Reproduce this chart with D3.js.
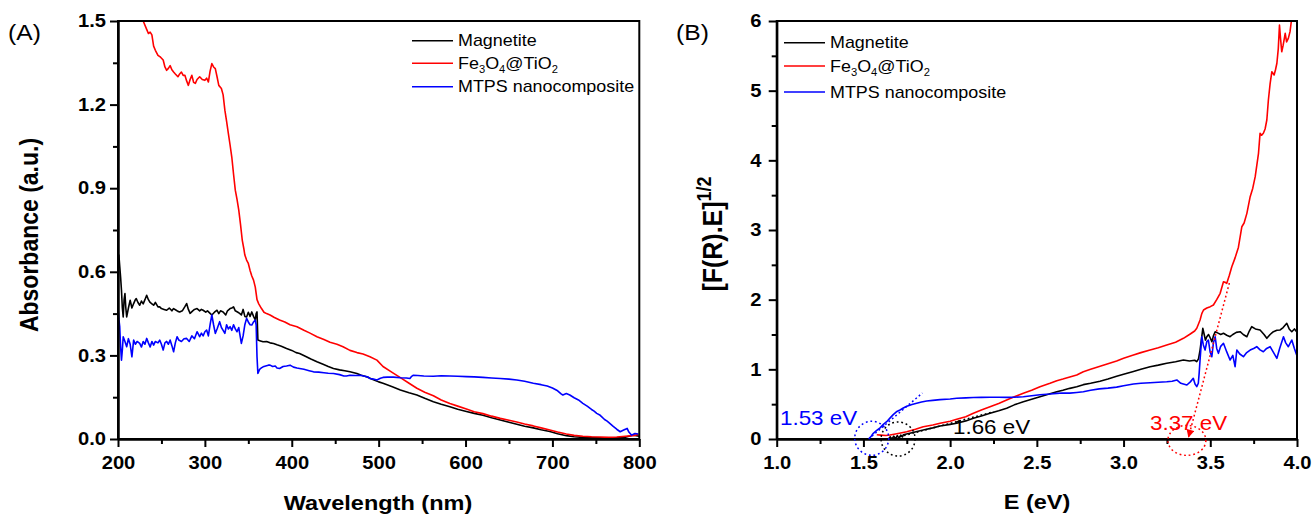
<!DOCTYPE html>
<html lang="en">
<head>
<meta charset="utf-8">
<title>absorbance and tauc plot</title>
<script src="https://d3js.org/d3.v7.min.js"></script>
<style>
body{margin:0;background:#fff;font-family:"Liberation Sans",Arial,sans-serif;}
</style>
</head>
<body>
<div id="chart"></div>
<script>
// ---- panel A : absorbance spectra, [wavelength (nm), absorbance] ----
var magnetiteA = [[200,0.60],[201,0.66],[202,0.62],[203,0.58],[204,0.534],[205,0.47],[206,0.438],[207,0.50],[208,0.522],[209,0.47],[210,0.438],[212,0.47],[214,0.498],[216,0.47],[218,0.486],[220,0.50],[221,0.504],[223,0.49],[225,0.48],[227,0.495],[229,0.485],[231,0.50],[233,0.516],[235,0.50],[237,0.49],[239,0.485],[241,0.48],[243,0.49],[246,0.474],[248,0.474],[250,0.468],[253,0.465],[256,0.462],[259,0.47],[262,0.46],[264,0.468],[267,0.462],[269,0.458],[271,0.456],[274,0.46],[277,0.475],[279,0.486],[281,0.465],[283,0.451],[286,0.46],[288,0.465],[291,0.468],[294,0.46],[296,0.465],[298,0.462],[301,0.455],[303,0.46],[306,0.451],[308,0.445],[311,0.455],[314,0.462],[316,0.45],[318,0.46],[321,0.456],[324,0.445],[326,0.46],[329,0.468],[331,0.47],[333,0.474],[335,0.46],[338,0.455],[340,0.451],[342,0.445],[344,0.465],[346,0.44],[348,0.438],[350,0.455],[352,0.44],[354,0.456],[356,0.44],[358,0.427],[359,0.45],[360,0.456],[361,0.355],[364,0.352],[367,0.349],[371,0.35],[375,0.345],[379,0.343],[383,0.338],[388,0.333],[394,0.325],[400,0.318],[405,0.31],[409,0.307],[415,0.298],[422,0.287],[429,0.277],[436,0.268],[442,0.26],[448,0.253],[455,0.248],[461,0.245],[467,0.241],[475,0.235],[480,0.229],[486,0.223],[494,0.213],[500,0.205],[505,0.2],[515,0.188],[525,0.176],[535,0.166],[544,0.158],[553,0.146],[563,0.134],[572,0.125],[582,0.116],[591,0.107],[601,0.099],[610,0.092],[620,0.085],[630,0.076],[640,0.068],[650,0.06],[659,0.053],[668,0.046],[678,0.04],[687,0.033],[697,0.027],[706,0.019],[716,0.012],[725,0.008],[735,0.006],[745,0.005],[755,0.004],[765,0.004],[774,0.004],[784,0.006],[793,0.014],[800,0.01]]
var fetioA = [[224,1.54],[229,1.50],[233,1.47],[235,1.455],[237,1.46],[239,1.45],[241,1.41],[243,1.395],[246,1.377],[249,1.37],[252,1.36],[254,1.335],[256,1.323],[258,1.33],[260,1.34],[262,1.325],[264,1.317],[266,1.31],[269,1.30],[271,1.31],[273,1.317],[275,1.305],[277,1.305],[279,1.285],[281,1.269],[283,1.29],[285,1.305],[287,1.28],[289,1.276],[291,1.29],[294,1.30],[297,1.29],[300,1.287],[302,1.295],[304,1.281],[306,1.32],[308,1.347],[310,1.335],[312,1.329],[314,1.30],[316,1.269],[319,1.258],[321,1.235],[323,1.18],[325,1.14],[327,1.097],[329,1.055],[331,1.011],[333,0.95],[335,0.893],[337,0.86],[339,0.821],[341,0.77],[343,0.714],[345,0.68],[346,0.66],[348,0.642],[350,0.63],[352,0.605],[354,0.585],[356,0.57],[358,0.545],[360,0.50],[362,0.485],[365,0.469],[368,0.455],[371,0.45],[375,0.445],[380,0.436],[386,0.427],[392,0.42],[398,0.41],[406,0.403],[414,0.39],[421,0.38],[429,0.367],[437,0.357],[444,0.347],[452,0.34],[459,0.331],[467,0.318],[475,0.31],[482,0.305],[490,0.295],[498,0.283],[505,0.26],[515,0.24],[525,0.22],[535,0.20],[544,0.182],[553,0.168],[563,0.155],[572,0.14],[582,0.127],[591,0.118],[601,0.108],[610,0.098],[620,0.091],[630,0.082],[640,0.074],[650,0.067],[659,0.061],[668,0.054],[678,0.047],[687,0.04],[697,0.032],[706,0.025],[716,0.018],[725,0.013],[735,0.010],[745,0.008],[755,0.007],[765,0.006],[774,0.007],[784,0.01],[793,0.012],[799,0.016]]
var mtpsA = [[200,0.474],[201,0.43],[202,0.403],[203,0.33],[204,0.283],[205,0.32],[206,0.367],[208,0.35],[210,0.331],[212,0.36],[214,0.34],[216,0.295],[218,0.355],[220,0.34],[222,0.35],[225,0.343],[227,0.33],[229,0.35],[231,0.34],[233,0.361],[235,0.345],[237,0.33],[239,0.35],[241,0.337],[243,0.35],[246,0.345],[248,0.355],[250,0.34],[252,0.319],[254,0.345],[256,0.35],[258,0.34],[260,0.355],[262,0.335],[264,0.313],[266,0.345],[268,0.367],[270,0.355],[273,0.35],[276,0.36],[279,0.361],[282,0.35],[285,0.37],[288,0.36],[291,0.385],[294,0.367],[296,0.38],[298,0.37],[300,0.385],[302,0.391],[304,0.37],[306,0.41],[308,0.445],[310,0.41],[312,0.379],[314,0.395],[317,0.421],[319,0.40],[321,0.39],[323,0.379],[325,0.41],[327,0.395],[329,0.403],[331,0.39],[333,0.41],[335,0.395],[337,0.385],[339,0.4],[340,0.38],[342,0.343],[344,0.37],[346,0.41],[348,0.433],[350,0.42],[352,0.41],[354,0.409],[356,0.42],[358,0.427],[359,0.41],[360,0.295],[361,0.235],[363,0.25],[365,0.255],[367,0.259],[370,0.262],[373,0.265],[375,0.265],[378,0.26],[381,0.262],[383,0.255],[386,0.253],[390,0.26],[394,0.262],[398,0.265],[402,0.258],[406,0.255],[409,0.253],[414,0.25],[420,0.245],[425,0.241],[431,0.24],[437,0.238],[442,0.236],[448,0.235],[455,0.231],[460,0.226],[463,0.226],[467,0.229],[473,0.228],[479,0.229],[484,0.225],[488,0.222],[490,0.217],[494,0.215],[498,0.212],[502,0.218],[505,0.221],[510,0.222],[517,0.222],[525,0.22],[532,0.219],[536,0.217],[538,0.225],[540,0.229],[545,0.228],[552,0.226],[563,0.225],[572,0.227],[582,0.226],[591,0.225],[601,0.224],[610,0.223],[620,0.221],[630,0.219],[640,0.217],[650,0.215],[659,0.212],[668,0.207],[678,0.2],[687,0.195],[694,0.19],[700,0.183],[706,0.173],[710,0.162],[712,0.158],[716,0.163],[720,0.158],[725,0.148],[730,0.14],[735,0.128],[740,0.118],[745,0.106],[748,0.1],[751,0.092],[755,0.085],[760,0.07],[763,0.064],[766,0.056],[770,0.045],[774,0.035],[778,0.026],[782,0.032],[786,0.038],[788,0.025],[791,0.014],[795,0.02],[799,0.018]]

// ---- panel B : tauc plot, [E (eV), [F(R).E]^1/2] ----
var magnetiteB = [[1.644,0],[1.655,0.03],[1.665,0.0],[1.675,0.04],[1.685,0.005],[1.695,0.05],[1.705,0.01],[1.715,0.055],[1.725,0.03],[1.73,0.06],[1.78,0.09],[1.845,0.129],[1.9,0.16],[1.942,0.187],[2.0,0.21],[2.038,0.225],[2.09,0.26],[2.134,0.297],[2.18,0.33],[2.23,0.369],[2.28,0.405],[2.326,0.441],[2.37,0.49],[2.422,0.535],[2.47,0.57],[2.518,0.607],[2.576,0.65],[2.615,0.679],[2.65,0.7],[2.69,0.727],[2.73,0.75],[2.768,0.78],[2.81,0.8],[2.864,0.83],[2.91,0.86],[2.96,0.9],[3.0,0.93],[3.057,0.97],[3.1,1.0],[3.153,1.038],[3.2,1.06],[3.249,1.087],[3.3,1.11],[3.345,1.134],[3.38,1.12],[3.41,1.13],[3.422,1.11],[3.432,1.15],[3.441,1.277],[3.45,1.45],[3.457,1.589],[3.465,1.5],[3.472,1.42],[3.48,1.468],[3.49,1.5],[3.5,1.45],[3.509,1.397],[3.518,1.48],[3.528,1.54],[3.545,1.52],[3.56,1.5],[3.576,1.517],[3.595,1.49],[3.614,1.468],[3.63,1.5],[3.65,1.53],[3.672,1.54],[3.69,1.5],[3.711,1.468],[3.725,1.55],[3.739,1.612],[3.76,1.58],[3.787,1.565],[3.81,1.5],[3.826,1.445],[3.845,1.5],[3.864,1.54],[3.884,1.56],[3.903,1.565],[3.92,1.6],[3.941,1.661],[3.955,1.58],[3.97,1.54],[3.985,1.58],[3.998,1.54]]
var fetioB = [[1.577,0.06],[1.6,0.055],[1.63,0.05],[1.653,0.057],[1.7,0.08],[1.75,0.105],[1.8,0.14],[1.845,0.177],[1.9,0.2],[1.942,0.225],[2.0,0.255],[2.038,0.283],[2.09,0.32],[2.134,0.369],[2.18,0.415],[2.23,0.464],[2.28,0.51],[2.326,0.56],[2.37,0.605],[2.422,0.656],[2.47,0.7],[2.518,0.751],[2.576,0.8],[2.615,0.837],[2.65,0.86],[2.69,0.89],[2.73,0.92],[2.768,0.966],[2.81,1.0],[2.86,1.04],[2.91,1.08],[2.96,1.12],[3.0,1.16],[3.057,1.206],[3.1,1.24],[3.153,1.277],[3.2,1.31],[3.249,1.349],[3.3,1.39],[3.345,1.445],[3.38,1.5],[3.41,1.55],[3.422,1.589],[3.432,1.65],[3.441,1.708],[3.451,1.8],[3.461,1.852],[3.48,1.88],[3.5,1.9],[3.518,1.923],[3.537,2.0],[3.557,2.091],[3.576,2.258],[3.585,2.25],[3.595,2.235],[3.61,2.35],[3.624,2.473],[3.643,2.6],[3.662,2.75],[3.682,3.047],[3.695,3.1],[3.711,3.239],[3.73,3.478],[3.745,3.6],[3.759,3.765],[3.778,4.101],[3.787,4.388],[3.796,4.36],[3.806,4.388],[3.816,4.45],[3.826,4.579],[3.835,4.866],[3.845,5.1],[3.855,5.272],[3.868,5.225],[3.876,5.3],[3.884,5.393],[3.892,5.6],[3.899,5.942],[3.905,5.75],[3.912,5.559],[3.92,5.65],[3.932,5.823],[3.94,5.7],[3.95,5.751],[3.96,5.85],[3.97,6.05]]
var mtpsB = [[1.53,0.0],[1.545,0.04],[1.557,0.082],[1.575,0.12],[1.596,0.16],[1.615,0.21],[1.634,0.248],[1.653,0.3],[1.672,0.35],[1.69,0.39],[1.711,0.416],[1.73,0.445],[1.75,0.47],[1.78,0.495],[1.807,0.512],[1.835,0.53],[1.865,0.545],[1.9,0.555],[1.942,0.565],[2.0,0.575],[2.038,0.584],[2.09,0.59],[2.134,0.595],[2.18,0.598],[2.23,0.6],[2.28,0.6],[2.326,0.597],[2.37,0.6],[2.422,0.607],[2.47,0.62],[2.518,0.635],[2.576,0.645],[2.615,0.655],[2.65,0.66],[2.69,0.658],[2.73,0.668],[2.768,0.679],[2.81,0.7],[2.86,0.72],[2.91,0.73],[2.96,0.745],[3.0,0.765],[3.057,0.79],[3.1,0.8],[3.153,0.808],[3.2,0.815],[3.249,0.822],[3.28,0.83],[3.307,0.847],[3.33,0.8],[3.365,0.775],[3.385,0.82],[3.402,0.871],[3.412,0.79],[3.422,0.751],[3.431,0.8],[3.436,0.95],[3.441,1.134],[3.451,1.468],[3.46,1.35],[3.47,1.277],[3.48,1.4],[3.489,1.421],[3.499,1.25],[3.509,1.181],[3.518,1.38],[3.528,1.468],[3.537,1.3],[3.547,1.23],[3.56,1.33],[3.576,1.374],[3.595,1.25],[3.614,1.134],[3.63,1.2],[3.643,1.038],[3.653,1.277],[3.67,1.22],[3.691,1.181],[3.71,1.24],[3.73,1.277],[3.75,1.3],[3.768,1.325],[3.787,1.28],[3.806,1.253],[3.825,1.3],[3.845,1.325],[3.865,1.24],[3.884,1.158],[3.9,1.3],[3.922,1.468],[3.935,1.38],[3.95,1.325],[3.97,1.421],[3.985,1.3],[3.998,1.206]]

// tangent lines and band-gap marks in panel B
var tangentMtps = [[1.53,0],[1.84,0.66]]
var tangentMagnetite = [[1.66,0],[2.25,0.39]]
var tangentFetio = [[3.61,2.24],[3.375,0.03]]
var gapCircles = [[1.548,0.01],[1.70,0.0],[3.365,-0.02]]
var gapLabels = ["1.53 eV","1.66 eV","3.37 eV"]

var seriesNames = ["Magnetite","Fe3O4@TiO2","MTPS nanocomposite"]
var colors = ["#000000","#ff0000","#0000ff"]

var xMajorA = [200,300,400,500,600,700,800]
var xMinorA = [250,350,450,550,650,750]
var yMajorA = [0,0.3,0.6,0.9,1.2,1.5]
var yMinorA = [0.15,0.45,0.75,1.05,1.35]
var xMajorB = [1.0,1.5,2.0,2.5,3.0,3.5,4.0]
var xMinorB = [1.25,1.75,2.25,2.75,3.25,3.75]
var yMajorB = [0,1,2,3,4,5,6]
var yMinorB = [0.5,1.5,2.5,3.5,4.5,5.5]

var W = 1315, H = 518, SX = 1.12
var top0 = 21, bot0 = 439

var svg = d3.select("#chart").append("svg").attr("width",W).attr("height",H)
var defs = svg.append("defs")
defs.append("marker").attr("id","arrow").attr("viewBox","0 0 10 10")
    .attr("refX",9).attr("refY",5).attr("markerWidth",9).attr("markerHeight",8)
    .attr("markerUnits","userSpaceOnUse").attr("orient","auto")
    .append("path").attr("d","M0,0L10,5L0,10z").attr("fill","#ff0000")

// text is a little wide in the original, so stretch it horizontally
function label(x,y,str,size,weight,color,anchor,rot){
    return svg.append("text")
        .attr("transform","translate("+x+","+y+") scale("+SX+",1)"+(rot?" rotate(-90)":""))
        .attr("font-size",size).attr("font-weight",weight||"normal")
        .attr("fill",color||"#000").attr("text-anchor",anchor||"start")
        .text(str)
}

function drawPanel(cfg){
    var x = d3.scaleLinear().domain(cfg.xDomain).range(cfg.xRange)
    var y = d3.scaleLinear().domain(cfg.yDomain).range([bot0,top0])
    var g = svg.append("g")

    defs.append("clipPath").attr("id",cfg.id+"clip").append("rect")
        .attr("x",cfg.xRange[0]).attr("y",top0)
        .attr("width",cfg.xRange[1]-cfg.xRange[0]).attr("height",bot0-top0)

    var line = d3.line().x(function(d){return x(d[0])}).y(function(d){return y(d[1])})
    var plot = g.append("g").attr("clip-path","url(#"+cfg.id+"clip)")
    cfg.series.forEach(function(s,i){
        plot.append("path").datum(s).attr("d",line)
            .attr("fill","none").attr("stroke",colors[i])
            .attr("stroke-width",1.6).attr("stroke-linejoin","round")
    })

    // minor ticks then major ticks
    var xa = g.append("g").attr("transform","translate(0,"+bot0+")")
    xa.append("g").call(d3.axisBottom(x).tickValues(cfg.xMinor).tickSize(5).tickSizeOuter(0).tickFormat(""))
    xa.append("g").call(d3.axisBottom(x).tickValues(cfg.xMajor).tickSize(8).tickSizeOuter(0).tickPadding(9).tickFormat(cfg.xFmt))
    var ya = g.append("g").attr("transform","translate("+cfg.xRange[0]+",0)")
    ya.append("g").call(d3.axisLeft(y).tickValues(cfg.yMinor).tickSize(5).tickSizeOuter(0).tickFormat(""))
    ya.append("g").call(d3.axisLeft(y).tickValues(cfg.yMajor).tickSize(8).tickSizeOuter(0).tickPadding(cfg.yPad).tickFormat(cfg.yFmt))

    g.selectAll(".domain, .tick line").attr("stroke","#000").attr("stroke-width",2)
    g.selectAll(".tick text").attr("font-size",18).attr("font-weight","bold")
        .attr("font-family","'Liberation Sans',Arial,sans-serif").attr("fill","#000")
        .attr("transform","scale("+SX+",1)")

    g.append("rect").attr("x",cfg.xRange[0]).attr("y",top0)
        .attr("width",cfg.xRange[1]-cfg.xRange[0]).attr("height",bot0-top0)
        .attr("fill","none").attr("stroke","#000").attr("stroke-width",2)

    // legend
    cfg.legendY.forEach(function(ly,i){
        g.append("line").attr("x1",cfg.legendX).attr("x2",cfg.legendX+41)
            .attr("y1",ly).attr("y2",ly).attr("stroke",colors[i]).attr("stroke-width",1.6)
        var t = label(cfg.legendX+46,ly+5.5,"",16)
        if(i==1){
            t.append("tspan").text("Fe")
            t.append("tspan").attr("font-size",10).attr("dy",4).text("3")
            t.append("tspan").attr("dy",-4).text("O")
            t.append("tspan").attr("font-size",10).attr("dy",4).text("4")
            t.append("tspan").attr("dy",-4).text("@TiO")
            t.append("tspan").attr("font-size",10).attr("dy",4).text("2")
        } else {
            t.text(seriesNames[i])
        }
    })
    return {x:x,y:y,g:g}
}

var A = drawPanel({id:"a",xDomain:[200,800],xRange:[118,639.3],yDomain:[0,1.5],
    series:[magnetiteA,fetioA,mtpsA],xMajor:xMajorA,xMinor:xMinorA,yMajor:yMajorA,yMinor:yMinorA,
    xFmt:d3.format("d"),yFmt:d3.format(".1f"),yPad:2.7,legendX:412,legendY:[40.7,63.3,86.7]})

var B = drawPanel({id:"b",xDomain:[1,4],xRange:[776.7,1297],yDomain:[0,6],
    series:[magnetiteB,fetioB,mtpsB],xMajor:xMajorB,xMinor:xMinorB,yMajor:yMajorB,yMinor:yMinorB,
    xFmt:d3.format(".1f"),yFmt:d3.format("d"),yPad:5.5,legendX:784,legendY:[42.7,66,92]})

// tangent lines and circles showing band gaps
var tl = d3.line().x(function(d){return B.x(d[0])}).y(function(d){return B.y(d[1])})
var tangents = [tangentMagnetite,tangentFetio,tangentMtps]
tangents.forEach(function(t,i){
    var p = B.g.append("path").datum(t).attr("d",tl).attr("fill","none")
        .attr("stroke",colors[i]).attr("stroke-width",1.5).attr("stroke-dasharray","1.8,2.6")
    if(i==1) p.attr("marker-end","url(#arrow)")
})
var circleOrder = [2,0,1]
gapCircles.forEach(function(c,k){
    var i = circleOrder[k]
    B.g.append("ellipse").attr("cx",B.x(c[0])).attr("cy",B.y(c[1]))
        .attr("rx",k==2?19:17).attr("ry",k==2?15:17)
        .attr("fill","none").attr("stroke",colors[i]).attr("stroke-width",1.5)
        .attr("stroke-dasharray","1.8,2.8")
})
label(780,425,gapLabels[0],20,"normal",colors[2])
label(953,434,gapLabels[1],20,"normal",colors[0])
label(1150,430,gapLabels[2],20,"normal",colors[1])

// titles
label(8,40,"(A)",22)
label(676,40,"(B)",22)
label(378,510,"Wavelength (nm)",21,"bold","#000","middle")
label(1037,509,"E (eV)",21,"bold","#000","middle")
label(38,235,"Absorbance (a.u.)",23,"bold","#000","middle",true)
var yt = label(722,234,"",25,"bold","#000","middle",true)
yt.append("tspan").text("[F(R).E]")
yt.append("tspan").attr("font-size",18).attr("dy",-10).text("1/2")
</script>
</body>
</html>
